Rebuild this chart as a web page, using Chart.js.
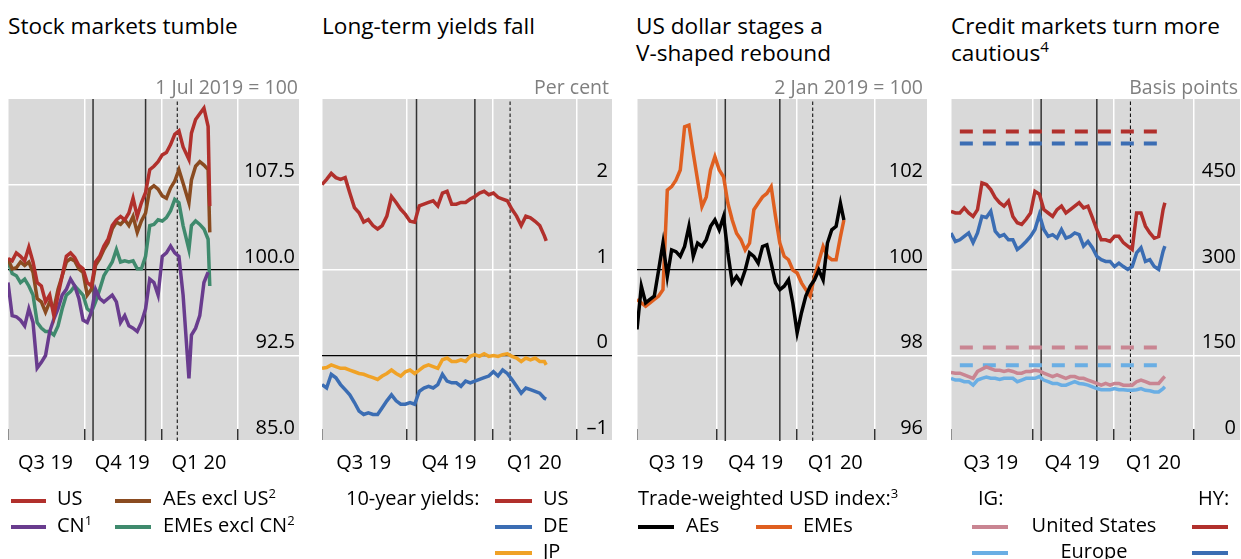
<!DOCTYPE html>
<html>
<head>
<meta charset="utf-8">
<title>Markets</title>
<script src="https://cdn.jsdelivr.net/npm/chart.js@4.4.1/dist/chart.umd.min.js"></script>
<style>
  html, body { margin: 0; padding: 0; background: #fff; }
  body { position: relative; width: 1241px; height: 559px; overflow: hidden; font-family: "Open Sans", sans-serif; color: #000; }
  .txt { position: absolute; white-space: nowrap; }
  .unit { color: #7f7f7f; }
  .sw { position: absolute; height: 4px; }
  canvas { position: absolute; top: 99px; }
  sup { font-size: 13px; line-height: 0; vertical-align: baseline; position: relative; top: -7px; }
  .title sup { font-size: 15px; top: -9px; }
</style>
</head>
<body>
<canvas id="stocks"></canvas>
<canvas id="yields"></canvas>
<canvas id="usd"></canvas>
<canvas id="credit"></canvas>
<script>
// x positions are days since 1 Jul 2019
const quarterStarts = ['2019-07-01', '2019-10-01', '2020-01-01', '2020-04-01'];
const quarterMids = ['2019-08-15', '2019-11-15', '2020-02-15'];
const quarterLabels = ['Q3 19', 'Q4 19', 'Q1 20'];
const eventDates = ['2019-10-11', '2019-12-13'];
const dashedDate = '2020-01-20';

// stock markets, 1 Jul 2019 = 100
const stockDays = [0, 5, 10, 15, 20, 25, 30, 35, 40, 45, 50, 55, 60, 65, 70, 75, 80, 85, 90, 95,
  100, 105, 110, 115, 120, 125, 130, 135, 140, 145, 150, 155, 160, 165, 170, 175, 180, 185, 190, 195,
  200, 205, 210, 217, 220, 225, 230, 235, 240, 242];
const stockUS = [101.0, 100.8, 101.5, 101.2, 100.8, 102.0, 100.7, 98.9, 98.6, 97.2,
  97.8, 96.0, 97.8, 99.5, 101.2, 101.5, 101.1, 100.4, 100.1, 98.9,
  98.6, 100.7, 101.2, 102.1, 102.7, 103.9, 104.4, 104.7, 104.4, 105.0,
  106.3, 104.7, 105.9, 106.8, 108.8, 109.1, 109.5, 110.1, 110.3, 111.0,
  111.9, 112.2, 110.8, 109.7, 112.0, 113.2, 113.7, 114.2, 112.6, 105.6];
const stockCN = [98.9, 96.0, 95.9, 95.6, 95.1, 96.6, 95.4, 91.4, 91.9, 92.5,
  94.6, 95.7, 96.6, 97.8, 98.3, 99.2, 98.6, 97.5, 95.6, 95.4,
  96.3, 98.3, 97.5, 97.2, 97.5, 97.8, 97.2, 95.4, 96.0, 95.1,
  94.9, 94.6, 95.4, 96.6, 99.2, 98.9, 97.8, 101.2, 101.5, 102.1,
  101.5, 101.2, 97.8, 90.5, 94.3, 94.9, 96.0, 98.9, 99.8, null];
const stockAE = [101.0, 100.1, 100.2, 100.7, 100.4, 100.7, 99.8, 97.5, 97.2, 96.3,
  97.2, 96.6, 98.3, 99.5, 100.7, 101.0, 100.8, 100.1, 99.8, 97.8,
  98.3, 100.4, 101.0, 101.8, 102.4, 103.6, 104.2, 104.0, 104.4, 103.9,
  104.7, 103.3, 104.3, 105.0, 107.1, 107.4, 107.1, 106.5, 106.3, 107.2,
  107.8, 108.8, 107.6, 105.9, 107.9, 109.1, 109.5, 109.2, 108.8, 103.3];
const stockEM = [100.7, 99.7, 99.5, 98.9, 99.2, 98.6, 97.8, 95.4, 94.9, 94.6,
  94.6, 94.3, 95.1, 96.6, 97.8, 98.1, 98.6, 98.2, 97.8, 96.6,
  96.3, 97.2, 98.3, 99.5, 100.1, 100.7, 101.8, 100.7, 100.8, 100.7,
  100.8, 100.1, 100.1, 101.2, 103.9, 104.0, 104.4, 104.3, 104.6, 105.2,
  106.2, 105.9, 103.9, 101.8, 103.9, 104.3, 104.0, 103.6, 102.7, 98.6];
const stockTicks = [85, 92.5, 100, 107.5];

// 10-year yields, per cent
const yieldDays = [0, 5, 10, 15, 20, 25, 30, 35, 40, 45, 50, 55, 60, 65, 70, 75, 80, 85, 90, 95,
  100, 105, 110, 115, 120, 125, 130, 135, 140, 145, 150, 155, 160, 165, 170, 175, 180, 185, 190, 195,
  200, 205, 210, 215, 220, 225, 230, 235, 240, 242];
const yieldUS = [2.00, 2.06, 2.13, 2.08, 2.06, 2.08, 1.90, 1.73, 1.67, 1.56,
  1.59, 1.52, 1.48, 1.52, 1.63, 1.86, 1.79, 1.71, 1.65, 1.57,
  1.56, 1.75, 1.77, 1.79, 1.81, 1.75, 1.90, 1.92, 1.77, 1.77,
  1.79, 1.79, 1.83, 1.86, 1.90, 1.92, 1.88, 1.90, 1.85, 1.83,
  1.81, 1.71, 1.63, 1.52, 1.63, 1.61, 1.57, 1.52, 1.40, 1.34];
const yieldDE = [-0.34, -0.38, -0.22, -0.26, -0.34, -0.40, -0.46, -0.55, -0.65, -0.69,
  -0.67, -0.69, -0.69, -0.61, -0.53, -0.46, -0.53, -0.57, -0.57, -0.55,
  -0.57, -0.42, -0.38, -0.36, -0.38, -0.34, -0.22, -0.30, -0.32, -0.32,
  -0.36, -0.30, -0.32, -0.30, -0.28, -0.26, -0.24, -0.19, -0.24, -0.17,
  -0.21, -0.28, -0.36, -0.44, -0.38, -0.40, -0.42, -0.44, -0.50, -0.51];
const yieldJP = [-0.15, -0.14, -0.11, -0.13, -0.15, -0.15, -0.17, -0.19, -0.21, -0.22,
  -0.24, -0.26, -0.28, -0.24, -0.21, -0.17, -0.21, -0.24, -0.19, -0.17,
  -0.21, -0.17, -0.13, -0.11, -0.13, -0.15, -0.05, -0.03, -0.07, -0.07,
  -0.05, -0.07, -0.01, 0.01, -0.01, 0.02, -0.01, 0.00, -0.01, 0.01,
  0.02, -0.01, -0.03, -0.07, -0.03, -0.05, -0.03, -0.07, -0.07, -0.11];
const yieldTicks = [-1, 0, 1, 2];

// trade-weighted USD, 2 Jan 2019 = 100
const usdDays = [0, 5, 10, 15, 20, 25, 30, 35, 40, 45, 50, 55, 60, 65, 70, 75, 80, 85, 90, 95,
  100, 105, 110, 115, 120, 125, 130, 135, 140, 145, 150, 155, 160, 165, 170, 175, 180, 185, 190, 195,
  200, 205, 210, 215, 220, 225, 230, 235, 239];
const usdAE = [98.61, 99.62, 99.23, 99.31, 99.39, 100.0, 100.63, 99.85, 100.47, 100.43,
  100.32, 100.55, 101.02, 100.32, 100.63, 100.55, 100.71, 101.02, 101.17, 100.94,
  101.25, 100.40, 99.70, 99.85, 99.70, 100.0, 100.40, 100.32, 100.16, 100.55,
  100.59, 100.16, 99.70, 99.54, 99.62, 99.77, 99.23, 98.53, 99.00, 99.39,
  99.62, 99.77, 100.0, 99.77, 100.63, 100.94, 101.02, 101.56, 101.17];
const usdEM = [99.31, 99.23, 99.15, 99.23, 99.31, 99.39, 99.54, 101.87, 101.95, 102.10,
  102.34, 103.35, 103.39, 102.73, 102.10, 101.48, 101.71, 102.34, 102.65, 102.34,
  102.18, 101.56, 101.17, 100.86, 100.71, 100.47, 100.63, 101.41, 101.56, 101.71,
  101.79, 101.95, 101.25, 100.63, 100.32, 100.24, 100.0, 99.93, 99.70, 99.54,
  99.39, 99.85, 100.20, 100.55, 100.32, 100.24, 100.24, 100.78, 101.17];
const usdTicks = [96, 98, 100, 102];

// credit spreads, basis points
const spreadDays = yieldDays;
const hyUS = [403, 400, 400, 409, 400, 394, 406, 453, 450, 441,
  427, 418, 412, 421, 394, 383, 380, 389, 400, 438,
  433, 406, 400, 394, 406, 412, 400, 406, 412, 418,
  409, 412, 392, 371, 353, 353, 350, 359, 359, 348,
  342, 336, 400, 400, 377, 365, 356, 359, 406, 418];
const hyEU = [365, 350, 353, 359, 365, 348, 365, 394, 392, 403,
  368, 359, 362, 353, 353, 336, 342, 350, 359, 371,
  397, 371, 359, 362, 356, 371, 356, 359, 365, 362,
  342, 350, 339, 324, 318, 315, 315, 306, 312, 306,
  301, 306, 330, 339, 315, 318, 306, 301, 333, 342];
const igUS = [120, 119, 119, 116, 113, 110, 122, 126, 130, 127,
  124, 124, 122, 124, 122, 119, 119, 122, 122, 124,
  123, 119, 116, 113, 116, 113, 110, 113, 113, 110,
  110, 107, 104, 101, 98, 101, 98, 101, 101, 98,
  98, 98, 104, 107, 104, 101, 101, 101, 110, 113];
const igEU = [110, 107, 107, 104, 104, 98, 107, 110, 112, 110,
  110, 108, 110, 110, 110, 104, 107, 110, 110, 110,
  113, 107, 104, 101, 101, 98, 98, 101, 104, 101,
  100, 98, 95, 92, 90, 90, 90, 92, 90, 90,
  89, 89, 90, 92, 89, 88, 86, 86, 92, 95];
// dashed reference levels
const avgFrom = 10, avgTo = 241;
const hyUSAvg = 543, hyEUAvg = 522, igUSAvg = 164, igEUAvg = 133;
const spreadTicks = [0, 150, 300, 450];

const RED = '#b1302c', PURPLE = '#693c8e', BROWN = '#8a4b20', GREEN = '#3f8a6d';
const BLUE = '#3b6db3', YELLOW = '#f0a226', ORANGE = '#df5f20', BLACK = '#000';
const PINK = '#c98592', LIGHTBLUE = '#6aaee4';

Chart.defaults.font.family = '"Open Sans", sans-serif';
Chart.defaults.color = '#000';

function dayOf(iso) {
  return (Date.parse(iso) - Date.parse('2019-07-01')) / 864e5;
}
const quarterDays = quarterStarts.map(dayOf);
const midDays = quarterMids.map(dayOf);
const xTickDays = quarterDays.concat(midDays).sort((a, b) => a - b);

function series(days, values, color) {
  return {
    data: days.map((d, i) => ({ x: d, y: values[i] })),
    borderColor: color, borderWidth: 3.5, pointRadius: 0, tension: 0, order: 1
  };
}

function level(value, color) {
  return {
    data: [{ x: avgFrom, y: value }, { x: avgTo, y: value }],
    borderColor: color, borderWidth: 4, borderDash: [13, 10], pointRadius: 0, order: 2
  };
}

function vline(day, yMin, yMax, dashed) {
  return {
    data: [{ x: day, y: yMin }, { x: day, y: yMax }],
    borderColor: dashed ? '#000' : '#333', borderWidth: dashed ? 1 : 1.5,
    borderDash: dashed ? [3.5, 2.5] : [], pointRadius: 0, order: 10
  };
}

const greyBg = {
  id: 'greyBg',
  beforeDraw(chart) {
    const { ctx, chartArea: a } = chart;
    ctx.save();
    ctx.fillStyle = '#d9d9d9';
    ctx.fillRect(a.left, a.top, a.right - a.left, a.bottom - a.top);
    ctx.restore();
  }
};

function makeChart(id, p) {
  const canvas = document.getElementById(id);
  canvas.width = p.width;
  canvas.height = 398;
  canvas.style.left = p.left + 'px';
  const lines = eventDates.map(d => vline(dayOf(d), p.yMin, p.yMax, false));
  lines.push(vline(dayOf(dashedDate), p.yMin, p.yMax, true));

  return new Chart(canvas, {
    type: 'line',
    data: { datasets: p.datasets.concat(lines) },
    options: {
      responsive: false,
      animation: false,
      devicePixelRatio: 1,
      layout: { padding: 0, autoPadding: false },
      plugins: { legend: { display: false }, tooltip: { enabled: false } },
      scales: {
        x: {
          type: 'linear', min: 0, max: p.xMax,
          afterBuildTicks: s => { s.ticks = xTickDays.map(v => ({ value: v })); },
          grid: {
            color: c => quarterDays.includes(c.tick?.value) ? '#fff' : 'rgba(0,0,0,0)',
            lineWidth: 1.5,
            drawTicks: true,
            tickLength: -12,
            tickWidth: 1.5,
            tickColor: c => quarterDays.includes(c.tick?.value) ? '#333' : 'rgba(0,0,0,0)'
          },
          border: { display: false },
          ticks: {
            autoSkip: false, maxRotation: 0, padding: 0,
            font: { size: 20, lineHeight: '68px' },
            callback: v => {
              const i = midDays.indexOf(v);
              return i < 0 ? '' : quarterLabels[i];
            }
          }
        },
        y: {
          type: 'linear', position: 'right', min: p.yMin, max: p.yMax,
          afterBuildTicks: s => { s.ticks = p.yTicks.map(v => ({ value: v })); },
          grid: {
            color: c => c.tick?.value === p.zero ? '#000' : '#fff',
            lineWidth: c => c.tick?.value === p.zero ? 1.2 : 1.5,
            drawTicks: false
          },
          border: { display: false },
          ticks: {
            mirror: true, padding: -4, labelOffset: -13,
            font: { size: 20, lineHeight: '8px' },
            callback: p.fmt
          }
        }
      }
    },
    plugins: [greyBg]
  });
}

makeChart('stocks', {
  left: 8, width: 291, xMax: 349, yMin: 85, yMax: 115, yTicks: stockTicks, zero: 100,
  fmt: v => v.toFixed(1),
  datasets: [
    series(stockDays, stockUS, RED),
    series(stockDays, stockCN, PURPLE),
    series(stockDays, stockAE, BROWN),
    series(stockDays, stockEM, GREEN)
  ]
});

makeChart('yields', {
  left: 322, width: 290, xMax: 313, yMin: -1, yMax: 3, yTicks: yieldTicks, zero: 0,
  fmt: v => (v < 0 ? '\u2013' + Math.abs(v) : String(v)),
  datasets: [
    series(yieldDays, yieldUS, RED),
    series(yieldDays, yieldDE, BLUE),
    series(yieldDays, yieldJP, YELLOW)
  ]
});

makeChart('usd', {
  left: 637, width: 290, xMax: 335, yMin: 96, yMax: 104, yTicks: usdTicks, zero: 100,
  fmt: v => String(v),
  datasets: [
    series(usdDays, usdAE, BLACK),
    series(usdDays, usdEM, ORANGE)
  ]
});

makeChart('credit', {
  left: 951, width: 289, xMax: 327, yMin: 0, yMax: 600, yTicks: spreadTicks, zero: null,
  fmt: v => String(v),
  datasets: [
    series(spreadDays, hyUS, RED),
    series(spreadDays, hyEU, BLUE),
    series(spreadDays, igUS, PINK),
    series(spreadDays, igEU, LIGHTBLUE),
    level(hyUSAvg, RED),
    level(hyEUAvg, BLUE),
    level(igUSAvg, PINK),
    level(igEUAvg, LIGHTBLUE)
  ]
});

// titles, units and legends
function addText(html, x, base, size, cls, align) {
  const el = document.createElement('div');
  el.className = 'txt ' + (cls || '');
  el.innerHTML = html;
  const lh = Math.round(size * 1.3);
  el.style.fontSize = size + 'px';
  el.style.lineHeight = lh + 'px';
  el.style.top = (base - lh / 2 - 0.388 * size) + 'px';
  if (align === 'right') {
    el.style.right = (1241 - x) + 'px';
  } else if (align === 'center') {
    el.style.left = x + 'px';
    el.style.transform = 'translateX(-50%)';
  } else {
    el.style.left = x + 'px';
  }
  document.body.appendChild(el);
}

function addSwatch(color, x1, x2, yc) {
  const el = document.createElement('div');
  el.className = 'sw';
  el.style.background = color;
  el.style.left = x1 + 'px';
  el.style.width = (x2 - x1) + 'px';
  el.style.top = (yc - 2) + 'px';
  document.body.appendChild(el);
}

const T1 = 34, T2 = 61, UNIT = 94;
const ROW = [506, 533, 559];
const SW = [501, 527, 553];

addText('Stock markets tumble', 8, T1, 22.6, 'title');
addText('Long-term yields fall', 322, T1, 22.6, 'title');
addText('US dollar stages a', 636, T1, 22.6, 'title');
addText('V-shaped rebound', 636, T2, 22.6, 'title');
addText('Credit markets turn more', 951, T1, 22.6, 'title');
addText('cautious<sup>4</sup>', 951, T2, 22.6, 'title');

addText('1 Jul 2019 = 100', 298, UNIT, 19.5, 'unit', 'right');
addText('Per cent', 609, UNIT, 19.5, 'unit', 'right');
addText('2 Jan 2019 = 100', 923, UNIT, 19.5, 'unit', 'right');
addText('Basis points', 1238, UNIT, 19.5, 'unit', 'right');

addSwatch(RED, 11, 46, SW[0]);
addText('US', 57, ROW[0], 20);
addSwatch(PURPLE, 11, 46, SW[1]);
addText('CN<sup>1</sup>', 57, ROW[1], 20);
addSwatch(BROWN, 115, 151, SW[0]);
addText('AEs excl US<sup>2</sup>', 163, ROW[0], 20);
addSwatch(GREEN, 115, 151, SW[1]);
addText('EMEs excl CN<sup>2</sup>', 163, ROW[1], 20);

addText('10-year yields:', 346, ROW[0], 20);
addSwatch(RED, 495, 532, SW[0]);
addText('US', 543, ROW[0], 20);
addSwatch(BLUE, 495, 532, SW[1]);
addText('DE', 543, ROW[1], 20);
addSwatch(YELLOW, 495, 532, SW[2]);
addText('JP', 543, ROW[2], 20);

addText('Trade-weighted USD index:<sup>3</sup>', 638, ROW[0], 20);
addSwatch(BLACK, 638, 674, SW[1]);
addText('AEs', 686, ROW[1], 20);
addSwatch(ORANGE, 756, 792, SW[1]);
addText('EMEs', 803, ROW[1], 20);

addText('IG:', 978, ROW[0], 20);
addText('HY:', 1198, ROW[0], 20);
addSwatch(PINK, 972, 1008, SW[1]);
addText('United States', 1094, ROW[1], 20, '', 'center');
addSwatch(RED, 1192, 1228, SW[1]);
addSwatch(LIGHTBLUE, 972, 1008, SW[2]);
addText('Europe', 1094, ROW[2], 20, '', 'center');
addSwatch(BLUE, 1192, 1228, SW[2]);
</script>
</body>
</html>
